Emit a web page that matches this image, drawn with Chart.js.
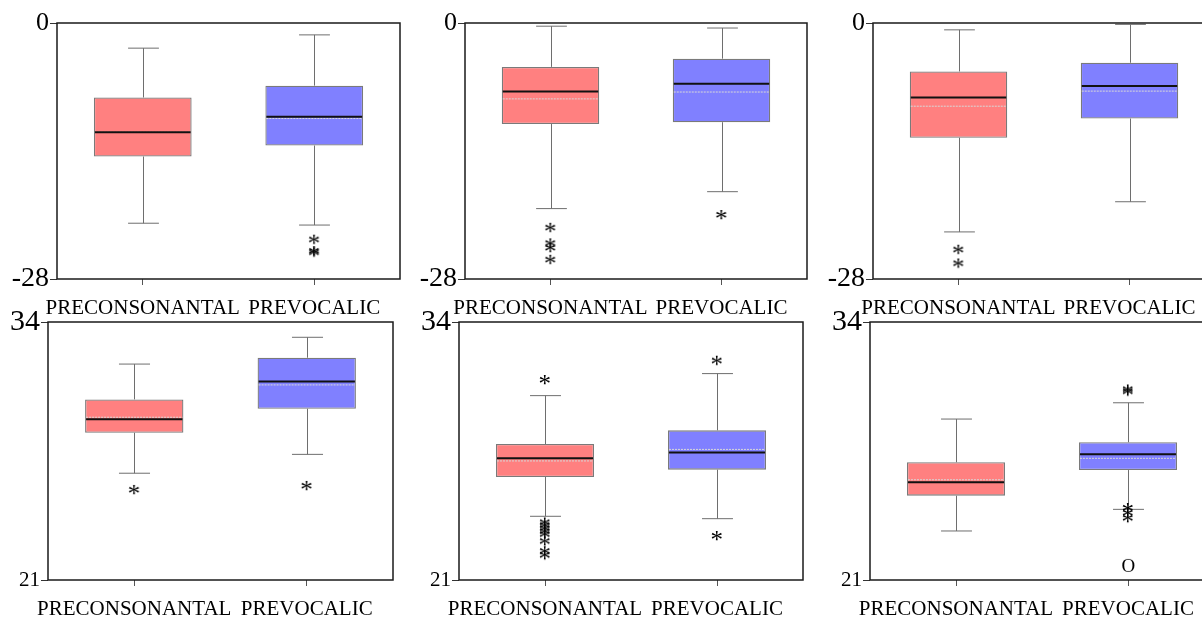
<!DOCTYPE html>
<html>
<head>
<meta charset="utf-8">
<script src="https://cdn.jsdelivr.net/npm/chart.js@4/dist/chart.umd.min.js"></script>
<style>
  html, body { margin: 0; padding: 0; background: #fff; overflow: hidden; }
  #wrap { position: relative; width: 1202px; height: 617px; }
  canvas { position: absolute; }
</style>
</head>
<body>
<div id="wrap"></div>
<script>
const categories = ["PRECONSONANTAL", "PREVOCALIC"]
const topRange = [-28, 0]
const bottomRange = [21, 34]

// box stats: [low whisker, q1, median, q3, high whisker, mean]
const p1Pre = [-21.9, -14.6, -11.95, -8.15, -2.75, -11.95]
const p1Prev = [-22.1, -13.4, -10.25, -6.85, -1.3, -10.45]
const p1Out = [[1, -23.7], [1, -24.95], [1, -25.1]]

const p2Pre = [-20.3, -11.05, -7.5, -4.8, -0.35, -8.3]
const p2Prev = [-18.45, -10.85, -6.65, -3.9, -0.55, -7.55]
const p2Out = [[0, -22.4], [0, -24.1], [0, -24.6], [0, -25.9], [1, -21.0]]

const p3Pre = [-22.85, -12.55, -8.15, -5.3, -0.75, -9.1]
const p3Prev = [-19.55, -10.45, -6.9, -4.35, -0.15, -7.45]
const p3Out = [[0, -24.8], [0, -26.3]]

const p4Pre = [26.38, 28.42, 29.1, 30.1, 31.88, 29.2]
const p4Prev = [27.33, 29.63, 31.0, 32.2, 33.23, 30.83]
const p4Out = [[0, 25.54], [1, 25.74]]

const p5Pre = [24.21, 26.19, 27.13, 27.85, 30.29, 27.0]
const p5Prev = [24.09, 26.56, 27.43, 28.54, 31.4, 27.58]
const p5Out = [[0, 31.08], [0, 23.9], [0, 23.75], [0, 23.6], [0, 23.45], [0, 23.3],
               [0, 22.95], [0, 22.45], [0, 22.25], [1, 32.05], [1, 23.22]]

const p6Pre = [23.47, 25.25, 25.92, 26.93, 29.11, 26.05]
const p6Prev = [24.56, 26.54, 27.33, 27.94, 29.93, 27.13]
const p6Out = [[1, 30.6], [1, 30.5], [1, 24.63], [1, 24.38], [1, 24.12]]
const p6Far = [[1, 21.76]]

const boxColors = ["#ff8080", "#8080ff"]
const serif = "'Liberation Serif', 'Times New Roman', serif"

// text glyph used as point marker
function glyph(ch, size) {
  const c = document.createElement("canvas")
  c.width = 32
  c.height = 32
  const g = c.getContext("2d")
  g.font = size + "px " + serif
  g.fillStyle = "#000"
  const m = g.measureText(ch)
  const w = m.actualBoundingBoxLeft + m.actualBoundingBoxRight
  const h = m.actualBoundingBoxAscent + m.actualBoundingBoxDescent
  g.fillText(ch, 16 - w / 2 + m.actualBoundingBoxLeft, 16 - h / 2 + m.actualBoundingBoxAscent)
  return c
}
const starImg = glyph("*", 25)
const ringImg = glyph("O", 19)

const boxPlugin = {
  id: "boxplot",
  beforeDatasetsDraw(chart) {
    const ctx = chart.ctx
    const x = chart.scales.x
    const y = chart.scales.y
    const stats = chart.options.plugins.boxplot.stats
    const cap = x.width / categories.length * 0.18
    ctx.save()
    ctx.strokeStyle = "#6e6e6e"
    ctx.lineWidth = 1
    stats.forEach((s, i) => {
      const cx = Math.round(x.getPixelForValue(i)) + 0.5
      const lo = y.getPixelForValue(s[0])
      const hi = y.getPixelForValue(s[4])
      ctx.beginPath()
      ctx.moveTo(cx, y.getPixelForValue(s[1]))
      ctx.lineTo(cx, lo)
      ctx.moveTo(cx, y.getPixelForValue(s[3]))
      ctx.lineTo(cx, hi)
      ctx.moveTo(cx - cap / 2, lo)
      ctx.lineTo(cx + cap / 2, lo)
      ctx.moveTo(cx - cap / 2, hi)
      ctx.lineTo(cx + cap / 2, hi)
      ctx.stroke()
    })
    ctx.restore()
  },
  afterDatasetsDraw(chart) {
    const ctx = chart.ctx
    const y = chart.scales.y
    const stats = chart.options.plugins.boxplot.stats
    const bars = chart.getDatasetMeta(0).data
    ctx.save()
    stats.forEach((s, i) => {
      const b = bars[i]
      const x0 = b.x - b.width / 2 + 1
      const x1 = b.x + b.width / 2 - 1
      const mean = y.getPixelForValue(s[5])
      ctx.strokeStyle = "#d8d8d8"
      ctx.lineWidth = 1
      ctx.setLineDash([2, 1])
      ctx.beginPath()
      ctx.moveTo(x0, mean)
      ctx.lineTo(x1, mean)
      ctx.stroke()
      ctx.setLineDash([])
      const med = y.getPixelForValue(s[2])
      ctx.strokeStyle = "#111"
      ctx.lineWidth = 2
      ctx.beginPath()
      ctx.moveTo(x0, med)
      ctx.lineTo(x1, med)
      ctx.stroke()
    })
    ctx.restore()
  },
  afterDraw(chart) {
    const a = chart.chartArea
    const ctx = chart.ctx
    ctx.save()
    ctx.strokeStyle = "#1a1a1a"
    ctx.lineWidth = 1.5
    ctx.strokeRect(a.left, a.top, a.right - a.left, a.bottom - a.top)
    ctx.restore()
  }
}

function makePanel(area, axisW, range, pre, prev, out, far, maxSize, minSize) {
  const padTop = 20
  const xh = 45
  const cv = document.createElement("canvas")
  cv.width = axisW + (area.r - area.l) + 10
  cv.height = padTop + (area.b - area.t) + xh
  cv.style.left = (area.l - axisW) + "px"
  cv.style.top = (area.t - padTop) + "px"
  document.getElementById("wrap").appendChild(cv)

  const stats = [pre, prev]
  const datasets = [{
    type: "bar",
    data: stats.map(s => [s[1], s[3]]),
    backgroundColor: boxColors,
    borderColor: "#7a7a7a",
    borderWidth: 1.3,
    borderSkipped: false,
    barPercentage: 0.57,
    categoryPercentage: 1
  }, {
    type: "scatter",
    data: out.map(o => ({ x: categories[o[0]], y: o[1] })),
    pointStyle: starImg,
    pointRadius: 6
  }]
  if (far.length) {
    datasets.push({
      type: "scatter",
      data: far.map(o => ({ x: categories[o[0]], y: o[1] })),
      pointStyle: ringImg,
      pointRadius: 6
    })
  }

  new Chart(cv, {
    type: "bar",
    data: { labels: categories, datasets: datasets },
    options: {
      responsive: false,
      animation: false,
      layout: { padding: { top: padTop, right: 10, left: 0, bottom: 0 } },
      plugins: {
        legend: { display: false },
        tooltip: { enabled: false },
        boxplot: { stats: stats }
      },
      scales: {
        x: {
          type: "category",
          offset: true,
          border: { display: false },
          grid: { offset: false, drawOnChartArea: false, drawTicks: true, tickLength: 6, color: "#555" },
          ticks: { color: "#000", font: { family: serif, size: 21 }, padding: 11, maxRotation: 0, autoSkip: false },
          afterFit: s => { s.height = xh }
        },
        y: {
          min: range[0],
          max: range[1],
          border: { display: false },
          grid: { drawOnChartArea: false, drawTicks: true, tickLength: 7, color: "#333" },
          afterBuildTicks: s => { s.ticks = [{ value: range[0] }, { value: range[1] }] },
          ticks: {
            color: "#000",
            padding: 1,
            font: c => ({ family: serif, size: c.tick && c.tick.value === range[1] ? maxSize : minSize })
          },
          afterFit: s => { s.width = axisW }
        }
      }
    },
    plugins: [boxPlugin]
  })
}

makePanel({ l: 57, t: 23, r: 400, b: 279 }, 57, topRange, p1Pre, p1Prev, p1Out, [], 26, 28)
makePanel({ l: 465, t: 23, r: 807, b: 279 }, 57, topRange, p2Pre, p2Prev, p2Out, [], 26, 28)
makePanel({ l: 873, t: 23, r: 1215, b: 279 }, 57, topRange, p3Pre, p3Prev, p3Out, [], 26, 28)
makePanel({ l: 48, t: 322, r: 393, b: 580 }, 48, bottomRange, p4Pre, p4Prev, p4Out, [], 30, 21)
makePanel({ l: 459, t: 322, r: 803, b: 580 }, 48, bottomRange, p5Pre, p5Prev, p5Out, [], 30, 21)
makePanel({ l: 870, t: 322, r: 1214, b: 580 }, 48, bottomRange, p6Pre, p6Prev, p6Out, p6Far, 30, 21)
</script>
</body>
</html>
